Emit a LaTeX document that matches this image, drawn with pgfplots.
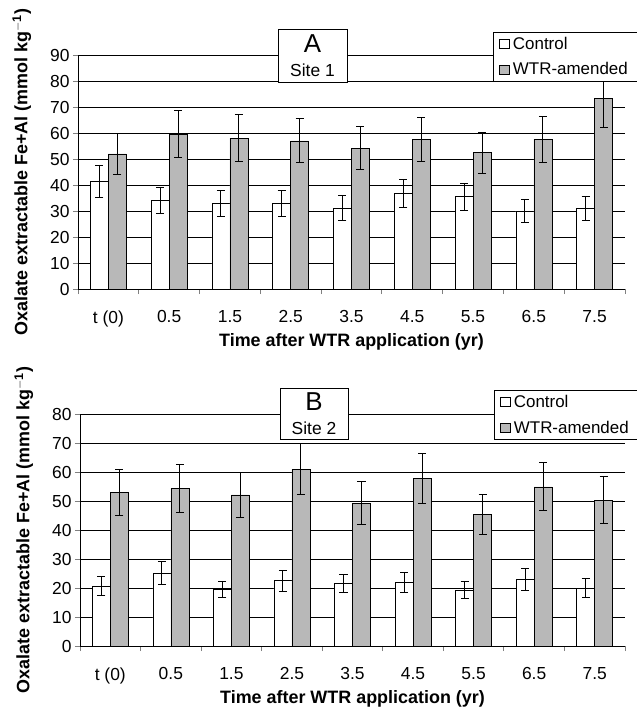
\documentclass[border=0pt]{standalone}
\usepackage{pgfplots}
\usepackage{pgfplotstable}
\pgfplotsset{compat=1.18}
\usepackage{fontspec}
\setmainfont{Liberation Sans}

\pgfplotstableread{
x c ce w we
0 41.5 6.2 52.0 8.0
1 34.0 5.0 59.5 9.0
2 33.0 5.0 58.0 9.0
3 33.0 5.0 57.0 8.5
4 31.2 4.7 54.2 8.2
5 36.8 5.5 57.6 8.5
6 35.5 5.2 52.4 7.8
7 30.0 4.5 57.6 8.8
8 31.0 4.7 73.3 11.0
}\dataA

\pgfplotstableread{
x c ce w we
0 20.7 3.3 52.9 8.0
1 25.1 4.0 54.4 8.3
2 19.5 2.9 52.1 7.8
3 22.5 3.6 61.0 8.9
4 21.6 3.2 49.2 7.4
5 22.0 3.5 57.8 8.6
6 19.3 2.9 45.4 6.8
7 23.0 3.7 54.9 8.3
8 19.9 3.3 50.3 8.0
}\dataB

\definecolor{wtrgray}{gray}{0.72}

\pgfplotsset{
  panel/.style={
    scale only axis,
    ybar=0pt, bar width=18bp,
    xmin=-0.5, xmax=8.5, ymin=0,
    axis x line*=bottom, axis y line*=left,
    axis line style={-, line width=0.8pt},
    xtick={0,...,8},
    xticklabels={t (0),0.5,1.5,2.5,3.5,4.5,5.5,6.5,7.5},
    major x tick style={draw=none},
    minor xtick={-0.5,0.5,...,8.5},
    minor x tick style={line width=0.8pt},
    tick align=outside,
    major tick length=5bp, minor tick length=5bp,
    y tick style={line width=0.8pt},
    ymajorgrids, grid style={line width=0.7pt, black},
    /pgf/number format/assume math mode=true,
    tick label style={font=\fontsize{17.5}{20}\selectfont},
    xticklabel style={yshift=-13bp},
    label style={font=\bfseries\fontsize{18}{21}\selectfont},
    xlabel={Time after WTR application (yr)},
    ylabel={Oxalate extractable Fe+Al (mmol kg$^{\mathbf{-1}}$)},
    ylabel shift=12bp,
    legend cell align=left,
    legend style={anchor=north west, draw=black, line width=0.7pt, fill=white,
      font=\fontsize{17}{20}\selectfont, inner xsep=6bp, inner ysep=3bp,
      row sep=8bp, /tikz/every odd column/.append style={column sep=1bp}},
    legend image code/.code={\draw[#1, draw=black, line width=0.6pt] (0bp,-4.5bp) rectangle (10bp,4.5bp);},
  },
  ctrl/.style={fill=white, draw=black, line width=0.6pt,
    error bars/.cd, y dir=both, y explicit,
    error bar style={line width=0.9pt, black},
    error mark options={rotate=90, mark size=4bp, line width=0.9pt, black}},
  wtr/.style={fill=wtrgray, draw=black, line width=0.6pt,
    error bars/.cd, y dir=both, y explicit,
    error bar style={line width=0.9pt, black},
    error mark options={rotate=90, mark size=4bp, line width=0.9pt, black}},
}

\begin{document}
\begin{tikzpicture}
\path[use as bounding box] (0bp,0bp) rectangle (637bp,-713bp);

\begin{axis}[panel, at={(78bp,-289bp)}, anchor=south west,
  width=547bp, height=234bp, ymax=90, ytick={0,10,...,90},
  legend style={at={(rel axis cs:0.7587,1.100)}}]
\addplot[ctrl] table[x=x, y=c, y error=ce] {\dataA};
\addplot[wtr] table[x=x, y=w, y error=we] {\dataA};
\legend{Control, WTR-amended\hphantom{WW}}
\end{axis}
\node[draw=black, line width=0.7pt, fill=white, minimum width=69bp, minimum height=53bp,
  inner sep=0pt] at (312.5bp,-55.5bp) {};
\node[font=\fontsize{26}{28}\selectfont, inner sep=0pt] at (312.5bp,-44bp) {A};
\node[font=\fontsize{17.5}{20}\selectfont, inner sep=0pt] at (312.5bp,-70.5bp) {Site 1};

\begin{axis}[panel, at={(80bp,-646bp)}, anchor=south west,
  width=545bp, height=232bp, ymax=80, ytick={0,10,...,80},
  legend style={at={(rel axis cs:0.7596,1.104)}}]
\addplot[ctrl] table[x=x, y=c, y error=ce] {\dataB};
\addplot[wtr] table[x=x, y=w, y error=we] {\dataB};
\legend{Control, WTR-amended\hphantom{WW}}
\end{axis}
\node[draw=black, line width=0.7pt, fill=white, minimum width=68bp, minimum height=51bp,
  inner sep=0pt] at (314bp,-413.5bp) {};
\node[font=\fontsize{26}{28}\selectfont, inner sep=0pt] at (314bp,-402bp) {B};
\node[font=\fontsize{17.5}{20}\selectfont, inner sep=0pt] at (314bp,-428bp) {Site 2};
\end{tikzpicture}
\end{document}
